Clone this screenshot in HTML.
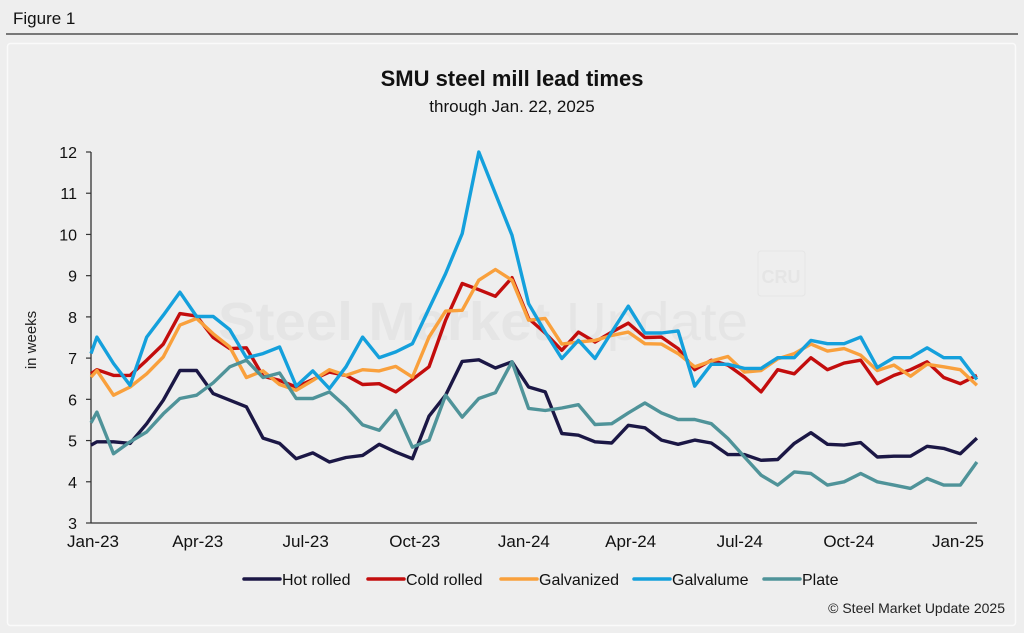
<!DOCTYPE html>
<html><head><meta charset="utf-8"><style>
body{margin:0;background:#eeeeee;width:1024px;height:633px;overflow:hidden;font-family:"Liberation Sans",sans-serif;}
svg{display:block}
</style></head><body>
<svg width="1024" height="633" viewBox="0 0 1024 633">
<rect x="0" y="0" width="1024" height="633" fill="#eeeeee"/>
<text x="13" y="24" font-size="17" fill="#111">Figure 1</text>
<line x1="6" y1="34" x2="1018" y2="34" stroke="#333" stroke-width="1.2"/>
<rect x="7.5" y="43.5" width="1008" height="582" rx="3" fill="#eeeeee" stroke="#fafafa" stroke-width="1.5"/>
<g fill="#e5e5e5">
<text x="218" y="340" font-size="54" font-weight="bold" textLength="530" lengthAdjust="spacingAndGlyphs">Steel Market <tspan font-weight="normal">Update</tspan></text>
<rect x="758" y="251" width="47" height="45" rx="3" fill="none" stroke="#e5e5e5"/>
<text x="781" y="283" font-size="18" font-weight="bold" text-anchor="middle">CRU</text>
</g>
<text x="512" y="86" font-size="22" font-weight="bold" text-anchor="middle" fill="#111">SMU steel mill lead times</text>
<text x="512" y="112" font-size="17" text-anchor="middle" fill="#111">through Jan. 22, 2025</text>
<text transform="translate(36,340) rotate(-90)" font-size="15" text-anchor="middle" fill="#222">in weeks</text>
<g id="axes"></g>
<g id="series"></g>
<g id="legend"></g>
<text x="1005" y="613" font-size="14" text-anchor="end" fill="#222">© Steel Market Update 2025</text>
</svg>
<script>
const hotRolled=[4.89,4.97,4.97,4.93,5.41,5.98,6.70,6.70,6.14,5.98,5.82,5.06,4.93,4.56,4.70,4.48,4.59,4.64,4.91,4.72,4.56,5.59,6.10,6.92,6.96,6.76,6.91,6.30,6.18,5.17,5.13,4.97,4.94,5.37,5.31,5.01,4.91,5.01,4.94,4.66,4.66,4.52,4.54,4.93,5.19,4.91,4.89,4.95,4.60,4.62,4.62,4.86,4.81,4.68,5.06];
const coldRolled=[6.62,6.72,6.58,6.58,6.95,7.34,8.08,8.02,7.50,7.23,7.25,6.56,6.46,6.30,6.48,6.66,6.58,6.36,6.38,6.18,6.48,6.79,7.92,8.81,8.66,8.50,8.95,7.96,7.61,7.19,7.63,7.39,7.63,7.85,7.50,7.51,7.23,6.72,6.95,6.83,6.54,6.18,6.72,6.62,7.01,6.72,6.88,6.95,6.38,6.58,6.72,6.91,6.53,6.38,6.58];
const galvanized=[6.54,6.70,6.10,6.30,6.62,7.03,7.80,7.96,7.59,7.27,6.53,6.69,6.36,6.22,6.46,6.72,6.58,6.72,6.69,6.80,6.54,7.51,8.14,8.16,8.89,9.15,8.89,7.92,7.96,7.34,7.39,7.43,7.55,7.63,7.35,7.34,7.11,6.79,6.93,7.04,6.66,6.70,6.98,7.11,7.34,7.17,7.23,7.07,6.70,6.83,6.56,6.85,6.79,6.72,6.34];
const galvalume=[7.11,7.51,6.87,6.34,7.51,8.04,8.60,8.01,8.01,7.69,7.01,7.11,7.27,6.32,6.69,6.26,6.79,7.51,7.01,7.15,7.35,8.20,9.05,10.02,12.0,10.99,9.98,8.32,7.63,6.99,7.43,6.99,7.63,8.26,7.61,7.61,7.66,6.32,6.85,6.85,6.75,6.75,7.01,7.01,7.43,7.35,7.35,7.51,6.77,7.01,7.01,7.25,7.01,7.01,6.48];
const plate=[5.43,5.69,4.68,4.97,5.21,5.65,6.02,6.10,6.40,6.79,6.95,6.53,6.64,6.02,6.02,6.18,5.82,5.38,5.25,5.73,4.84,5.01,6.10,5.57,6.02,6.16,6.91,5.78,5.73,5.79,5.87,5.39,5.41,5.67,5.91,5.67,5.51,5.51,5.41,5.05,4.60,4.16,3.92,4.24,4.20,3.92,4.00,4.20,4.00,3.92,3.84,4.08,3.92,3.92,4.48];
// sample dates as days since Jan 1, 2023
const sampleDays=[0,5,19,33,47,61,75,89,103,117,131,145,159,173,187,201,215,229,243,257,271,285,299,313,327,341,355,369,383,397,411,425,439,453,467,481,495,509,523,537,551,565,579,593,607,621,635,649,663,677,691,705,719,733,747];
const yTicks=[3,4,5,6,7,8,9,10,11,12];
const xTickLabels=["Jan-23","Apr-23","Jul-23","Oct-23","Jan-24","Apr-24","Jul-24","Oct-24","Jan-25"];
const xTickDays=[0,90,181,273,365,455,547,639,731];
const seriesNames=["Hot rolled","Cold rolled","Galvanized","Galvalume","Plate"];

const NS="http://www.w3.org/2000/svg";
const X0=91,PXD=1.186,Y0=523,YTOP=152;
const xs=d=>X0+d*PXD;
const ys=v=>Y0-(v-3)*(Y0-YTOP)/9;
function mk(tag,attrs,parent){const e=document.createElementNS(NS,tag);for(const k in attrs)e.setAttribute(k,attrs[k]);parent.appendChild(e);return e;}
const axes=document.getElementById('axes');
let e=mk('line',{x1:X0,y1:YTOP,x2:X0,y2:Y0,stroke:'#333','stroke-width':1.3},axes);


e=mk('line',{x1:X0,y1:Y0,x2:977,y2:Y0,stroke:'#333','stroke-width':1.3},axes);


yTicks.forEach(v=>{
  const t=mk('line',{x1:X0-5,y1:ys(v),x2:X0,y2:ys(v),stroke:'#333','stroke-width':1.2},axes);
  
  
  const l=mk('text',{x:X0-14,y:ys(v)+6,'font-size':16,'text-anchor':'end',fill:'#111'},axes);
  l.textContent=v;
  
  
});
xTickLabels.forEach((s,i)=>{
  const x=Math.max(xs(xTickDays[i]),93);
  const l=mk('text',{x:x,y:547,'font-size':17,'text-anchor':'middle',fill:'#111'},axes);
  l.textContent=s;
  
  
});
const colors=['#1b1745','#c30d0d','#f9a03c','#14a0dc','#4f9399'];
const data=[hotRolled,coldRolled,galvanized,galvalume,plate];
const sg=document.getElementById('series');
data.forEach((arr,si)=>{
  const pts=arr.map((v,i)=>xs(sampleDays[i]).toFixed(1)+','+ys(v).toFixed(1)).join(' ');
  const p=mk('polyline',{points:pts,fill:'none',stroke:colors[si],'stroke-width':3.4,'stroke-linejoin':'round'},sg);
  
  
});
const lg=document.getElementById('legend');
const legX=[244,368,501,634,764];
seriesNames.forEach((n,i)=>{
  const g=mk('g',{},lg);
  
  
  mk('line',{x1:legX[i],y1:579,x2:legX[i]+36,y2:579,stroke:colors[i],'stroke-width':3.5,'stroke-linecap':'round'},g);
  const t=mk('text',{x:legX[i]+38,y:585,'font-size':16,fill:'#111'},g);
  t.textContent=n;
});
</script>
</body></html>
